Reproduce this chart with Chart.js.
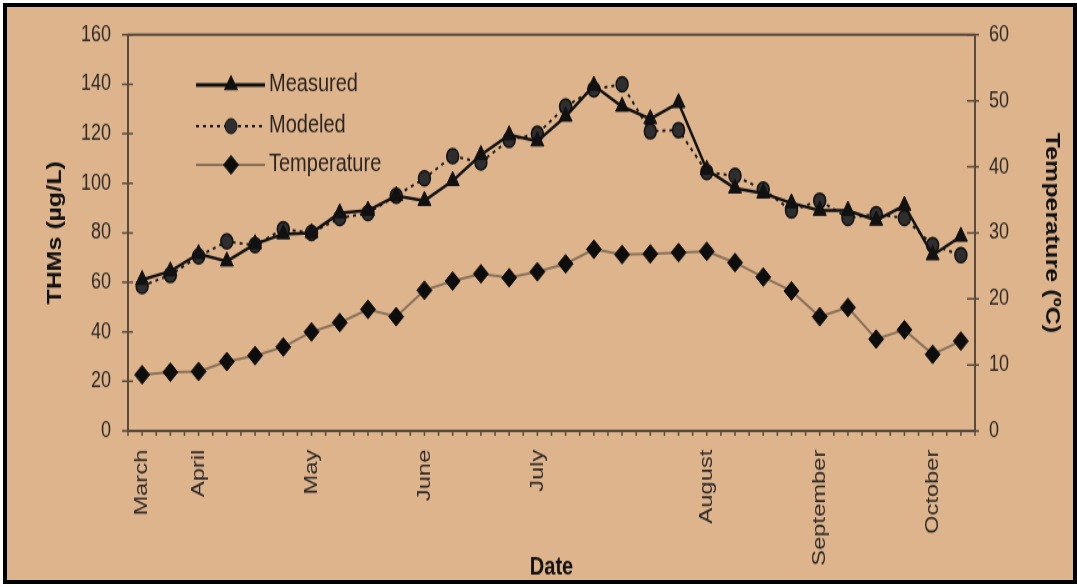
<!DOCTYPE html>
<html>
<head>
<meta charset="utf-8">
<script src="https://cdn.jsdelivr.net/npm/chart.js@4/dist/chart.umd.min.js"></script>
<style>
  html, body { margin: 0; padding: 0; background: #ffffff; width: 1077px; height: 587px; overflow: hidden; }
  #frame { position: absolute; left: 3px; top: 3px; width: 1074px; height: 581px; box-sizing: border-box; border: 4px solid #000; background: #DDB48C; }
  #c { position: absolute; left: 0; top: 0; z-index: 1; }
</style>
</head>
<body>
<div id="frame"></div>
<canvas id="c" width="1077" height="470" style="width:1077px;height:587px;"></canvas>
<script>
// ---- data ----
const categories = ['March','','April','','','','May','','','','June','','','','July','','','','','','August','','','','September','','','','October',''];
const measured    = [61, 64.5, 71.5, 68.5, 75.5, 79.5, 80, 88, 89, 95, 93, 101, 111.5, 119.5, 117, 127, 139.5, 131, 126, 132.5, 105.5, 98, 96, 92, 89, 89, 85, 91, 71, 78.5];
const modeled     = [58.5, 63, 70.5, 76.5, 75, 81.5, 80, 86, 88, 95, 102, 111, 108.5, 117.5, 120, 131, 138, 140, 121, 121.5, 104.5, 103, 97.5, 89, 93, 86, 87.5, 86, 75, 71];
const temperature = [8.5, 8.9, 9, 10.5, 11.4, 12.7, 15, 16.4, 18.4, 17.3, 21.3, 22.7, 23.8, 23.2, 24.1, 25.3, 27.5, 26.7, 26.8, 27, 27.2, 25.5, 23.3, 21.2, 17.3, 18.7, 13.9, 15.3, 11.6, 13.6];
const leftTicks  = [0, 20, 40, 60, 80, 100, 120, 140, 160];
const rightTicks = [0, 10, 20, 30, 40, 50, 60];
const seriesNames = ['Measured', 'Modeled', 'Temperature'];

const AXIS = '#5a4a3c';
const FONT = '"Liberation Sans", Arial, sans-serif';

const axisDecor = {
  id: 'axisDecor',
  beforeDatasetsDraw(chart) {
    const ctx = chart.ctx, a = chart.chartArea;
    const x = chart.scales.x, y = chart.scales.y, y1 = chart.scales.y1;
    ctx.save();
    ctx.strokeStyle = AXIS;
    ctx.lineWidth = 2;
    ctx.beginPath(); ctx.moveTo(a.left, a.top); ctx.lineTo(a.right, a.top); ctx.stroke();
    ctx.lineWidth = 1.5;
    ctx.beginPath();
    y.ticks.forEach(t => { const p = y.getPixelForValue(t.value); ctx.moveTo(a.left - 6, p); ctx.lineTo(a.left + 5, p); });
    y1.ticks.forEach(t => { const p = y1.getPixelForValue(t.value); ctx.moveTo(a.right - 8, p); ctx.lineTo(a.right + 4, p); });
    ctx.stroke();
    const n = categories.length;
    const h = (x.getPixelForValue(1) - x.getPixelForValue(0)) / 2;
    ctx.beginPath();
    for (let i = 0; i < n; i++) {
      const p = x.getPixelForValue(i);
      ctx.moveTo(p - h, a.bottom); ctx.lineTo(p - h, a.bottom + 4);
      ctx.moveTo(p, a.bottom); ctx.lineTo(p, a.bottom + 4);
    }
    const pl = x.getPixelForValue(n - 1) + h;
    ctx.moveTo(pl, a.bottom); ctx.lineTo(pl, a.bottom + 4);
    ctx.stroke();
    ctx.restore();
  }
};

const innerLegend = {
  id: 'innerLegend',
  afterDatasetsDraw(chart) {
    const ctx = chart.ctx;
    const rowsY = [68, 101, 132];
    const lineWidths = [3, 2, 2];
    ctx.save();
    chart.data.datasets.forEach((ds, i) => {
      const yy = rowsY[i];
      ctx.strokeStyle = ds.borderColor;
      ctx.lineWidth = lineWidths[i];
      ctx.setLineDash(ds.borderDash || []);
      ctx.beginPath(); ctx.moveTo(196, yy); ctx.lineTo(265, yy); ctx.stroke();
      ctx.setLineDash([]);
      ctx.fillStyle = ds.pointBackgroundColor;
      ctx.strokeStyle = ds.pointBorderColor;
      ctx.lineWidth = 1;
      Chart.helpers.drawPoint(ctx, { pointStyle: ds.pointStyle, radius: ds.pointRadius, rotation: 0, borderWidth: 1 }, 231, yy);
      ctx.fillStyle = '#2b2522';
      ctx.font = '20px ' + FONT;
      ctx.textBaseline = 'middle';
      ctx.textAlign = 'left';
      ctx.fillText(ds.label, 269, yy - 1);
    });
    ctx.restore();
  }
};

new Chart(document.getElementById('c'), {
  type: 'line',
  data: {
    labels: categories,
    datasets: [
      { label: seriesNames[0], data: measured, yAxisID: 'y', borderColor: '#111111', borderWidth: 2.5,
        pointStyle: 'triangle', pointRadius: 7.5, pointBackgroundColor: '#111111', pointBorderColor: '#111111', pointBorderWidth: 1, tension: 0 },
      { label: seriesNames[1], data: modeled, yAxisID: 'y', borderColor: '#1a1a1a', borderWidth: 2, borderDash: [3, 4],
        pointStyle: 'circle', pointRadius: 6, pointBackgroundColor: '#2e2e2e', pointBorderColor: '#111111', pointBorderWidth: 1.5, tension: 0 },
      { label: seriesNames[2], data: temperature, yAxisID: 'y1', borderColor: '#8a7158', borderWidth: 2,
        pointStyle: 'rectRot', pointRadius: 7.5, pointBackgroundColor: '#0d0d0d', pointBorderColor: '#0d0d0d', pointBorderWidth: 1, tension: 0 }
    ]
  },
  options: {
    responsive: false,
    animation: false,
    devicePixelRatio: 1,
    layout: { padding: { top: 24, left: 0, right: 0, bottom: 0 } },
    plugins: { legend: { display: false }, tooltip: { enabled: false } },
    scales: {
      x: {
        type: 'category',
        offset: true,
        grid: { display: false, drawTicks: false },
        border: { display: true, color: AXIS, width: 2 },
        ticks: { autoSkip: false, maxRotation: 90, minRotation: 90, padding: 15, color: '#2e2a28', font: { family: FONT, size: 19 } },
        title: { display: true, text: 'Date', color: '#111', font: { family: FONT, size: 20, weight: 'bold' }, padding: { top: 0, bottom: 4 } },
        afterFit(s) { s.height = 125; }
      },
      y: {
        position: 'left', min: 0, max: 160,
        afterBuildTicks(s) { s.ticks = leftTicks.map(v => ({ value: v })); },
        grid: { display: false, drawTicks: false },
        border: { display: true, color: AXIS, width: 2 },
        ticks: { padding: 17, color: '#2e2a28', font: { family: FONT, size: 18 } },
        title: { display: true, text: 'THMs (µg/L)', color: '#111', font: { family: FONT, size: 20, weight: 'bold' }, padding: { top: 43, bottom: 0 } },
        afterFit(s) { s.width = 128; }
      },
      y1: {
        position: 'right', min: 0, max: 60,
        afterBuildTicks(s) { s.ticks = rightTicks.map(v => ({ value: v })); },
        grid: { display: false, drawTicks: false },
        border: { display: true, color: AXIS, width: 2 },
        ticks: { padding: 14, color: '#2e2a28', font: { family: FONT, size: 18 } },
        title: { display: true, text: 'Temperature (ºC)', color: '#111', font: { family: FONT, size: 20, weight: 'bold' }, padding: { top: 13, bottom: 0 } },
        afterFit(s) { s.width = 102; }
      }
    }
  },
  plugins: [axisDecor, innerLegend]
});
</script>
</body>
</html>
